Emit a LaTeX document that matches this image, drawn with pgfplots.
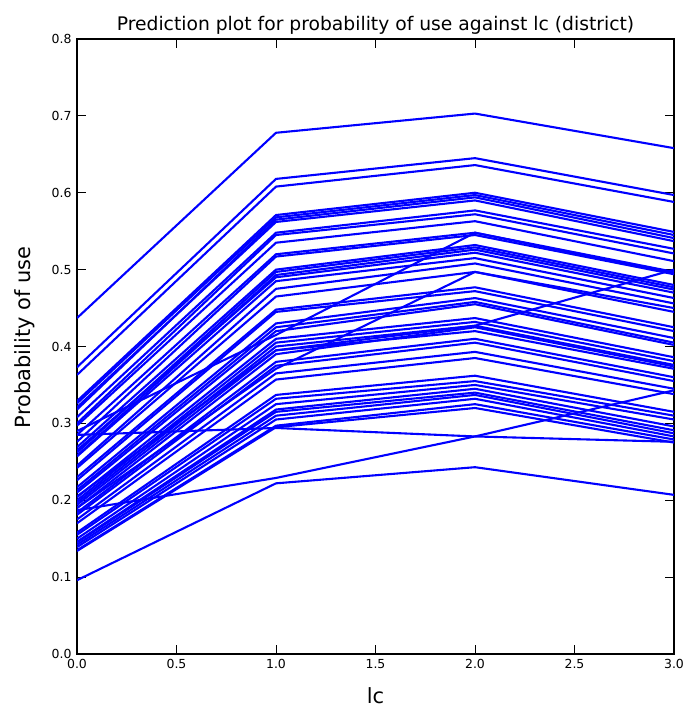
\documentclass[border=0pt]{standalone}
\usepackage{fontspec}
\setmainfont{DejaVu Sans}
\usepackage{pgfplots}
\pgfplotsset{compat=1.18}

% predicted probability of use at lc = 0, 1, 2, 3, one row per district
\newcommand{\districts}{%
0.437/0.678/0.703/0.658,
0.373/0.618/0.645/0.597,
0.363/0.608/0.636/0.588,
0.329/0.571/0.600/0.549,
0.326/0.568/0.597/0.545,
0.318/0.565/0.594/0.541,
0.321/0.562/0.590/0.537,
0.308/0.548/0.577/0.527,
0.300/0.545/0.572/0.521,
0.297/0.535/0.563/0.511,
0.285/0.520/0.548/0.497,
0.276/0.517/0.545/0.494,
0.269/0.500/0.532/0.480,
0.262/0.497/0.529/0.477,
0.258/0.493/0.526/0.474,
0.265/0.490/0.522/0.470,
0.257/0.485/0.515/0.463,
0.245/0.475/0.508/0.456,
0.242/0.465/0.497/0.445,
0.230/0.448/0.477/0.425,
0.226/0.445/0.472/0.420,
0.217/0.430/0.463/0.411,
0.213/0.425/0.458/0.405,
0.210/0.420/0.455/0.402,
0.204/0.410/0.437/0.386,
0.200/0.405/0.432/0.381,
0.197/0.400/0.427/0.376,
0.194/0.395/0.420/0.371,
0.190/0.390/0.425/0.374,
0.184/0.380/0.410/0.360,
0.181/0.375/0.405/0.355,
0.175/0.365/0.393/0.345,
0.170/0.357/0.385/0.338,
0.158/0.337/0.362/0.315,
0.155/0.332/0.355/0.310,
0.150/0.325/0.350/0.305,
0.146/0.318/0.345/0.296,
0.145/0.315/0.340/0.291,
0.142/0.310/0.337/0.287,
0.139/0.305/0.332/0.283,
0.135/0.297/0.325/0.279,
0.134/0.295/0.320/0.275,
0.096/0.222/0.243/0.207,
0.187/0.229/0.283/0.343,
0.285/0.294/0.283/0.276,
0.290/0.415/0.548/0.495,
0.205/0.395/0.427/0.500,
0.190/0.371/0.497/0.450}

\begin{document}
\begin{tikzpicture}
\begin{axis}[
  scale only axis,
  width=597bp, height=615bp,
  xmin=0, xmax=3, ymin=0, ymax=0.8,
  xtick={0,0.5,...,3}, ytick={0,0.1,...,0.8},
  /pgf/number format/fixed,
  /pgf/number format/fixed zerofill,
  /pgf/number format/precision=1,
  /pgf/number format/assume math mode=true,
  tick label style={font=\fontsize{12.5}{15}\selectfont},
  xticklabel style={yshift=-2bp},
  yticklabel style={xshift=-2bp},
  tick align=inside,
  tick pos=both,
  major tick length=9bp,
  tick style={black, line width=1bp},
  axis line style={line width=1.8bp},
  title={\fontsize{18.8}{22}\selectfont Prediction plot for probability of use against lc (district)},
  title style={yshift=-5bp},
  xlabel={\fontsize{21}{25}\selectfont lc},
  ylabel={\fontsize{21}{25}\selectfont Probability of use},
  xlabel style={yshift=-12bp},
  ylabel style={yshift=10bp, xshift=9bp},
  clip=true,
]
\coordinate (ll) at (rel axis cs:0,0);
\coordinate (ur) at (rel axis cs:1,1);
\foreach \a/\b/\c/\d in \districts {
  \edef\temp{\noexpand\addplot[color=blue, line width=2.1bp, forget plot]
    coordinates {(0,\a) (1,\b) (2,\c) (3,\d)};}
  \temp
}
\end{axis}
\pgfresetboundingbox
\path ([shift={(-77bp,-59bp)}]ll) rectangle ([shift={(11bp,39bp)}]ur);
\end{tikzpicture}
\end{document}
